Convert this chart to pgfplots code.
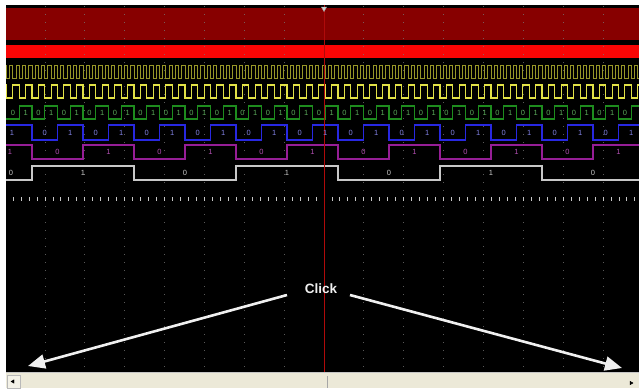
\documentclass[border=0pt]{standalone}
\usepackage{pgfplots}
\pgfplotsset{compat=1.18}
\usepackage{fontspec}
\setmainfont{Liberation Sans}
\usetikzlibrary{arrows.meta}
\definecolor{bandA}{RGB}{135,0,0}
\definecolor{bandB}{RGB}{250,5,5}
\definecolor{olivec}{RGB}{150,150,40}
\definecolor{yellowc}{RGB}{225,225,70}
\definecolor{greenc}{RGB}{30,140,30}
\definecolor{greenl}{RGB}{90,170,90}
\definecolor{bluec}{RGB}{40,40,225}
\definecolor{bluel}{RGB}{130,130,230}
\definecolor{purplec}{RGB}{150,30,150}
\definecolor{purplel}{RGB}{180,80,180}
\definecolor{whitec}{RGB}{200,200,200}
\definecolor{gridc}{RGB}{120,120,120}
\definecolor{cursorc}{RGB}{175,10,10}
\definecolor{scrollbg}{RGB}{236,233,216}
\definecolor{arroww}{RGB}{240,240,240}
\begin{document}
\begin{tikzpicture}
\begin{axis}[width=639pt,height=388pt,scale only axis,
  xmin=0,xmax=639,ymin=0,ymax=388,y dir=reverse,hide axis,clip=true,
  every node near coord/.append style={anchor=center,inner sep=0pt,font=\fontsize{7.5}{8}\selectfont}]
% backgrounds
\addplot[fill=white,draw=none] coordinates {(0,0)(639,0)(639,388)(0,388)};
\addplot[fill=black,draw=none] coordinates {(6,5)(639,5)(639,372)(6,372)};
\addplot[fill=bandA,draw=none] coordinates {(6,8)(639,8)(639,40)(6,40)};
\addplot[fill=bandB,draw=none] coordinates {(6,45)(639,45)(639,58)(6,58)};
% grid
\foreach \g in {45,84.86,124.71,164.57,204.43,244.29,284.14,363.86,403.71,443.57,483.43,523.29,563.14,603}{
  \edef\tmp{\noexpand\addplot[gridc,opacity=0.75,line width=0.9pt,dash pattern=on 1pt off 7pt] coordinates {(\g,6)(\g,372)};}
  \tmp
}
% olive fast clock
\addplot[const plot,olivec,line width=1pt] coordinates {(6,65)
(6.5,78)(9.69,65)(12.88,78)(16.06,65)(19.25,78)(22.44,65)(25.63,78)(28.81,65)
(32,78)(35.19,65)(38.38,78)(41.56,65)(44.75,78)(47.94,65)(51.13,78)(54.31,65)
(57.5,78)(60.69,65)(63.88,78)(67.06,65)(70.25,78)(73.44,65)(76.63,78)(79.81,65)
(83,78)(86.19,65)(89.38,78)(92.56,65)(95.75,78)(98.94,65)(102.13,78)(105.31,65)
(108.5,78)(111.69,65)(114.88,78)(118.06,65)(121.25,78)(124.44,65)(127.63,78)(130.81,65)
(134,78)(137.19,65)(140.38,78)(143.56,65)(146.75,78)(149.94,65)(153.13,78)(156.31,65)
(159.5,78)(162.69,65)(165.88,78)(169.06,65)(172.25,78)(175.44,65)(178.63,78)(181.81,65)
(185,78)(188.19,65)(191.38,78)(194.56,65)(197.75,78)(200.94,65)(204.13,78)(207.31,65)
(210.5,78)(213.69,65)(216.88,78)(220.06,65)(223.25,78)(226.44,65)(229.63,78)(232.81,65)
(236,78)(239.19,65)(242.38,78)(245.56,65)(248.75,78)(251.94,65)(255.13,78)(258.31,65)
(261.5,78)(264.69,65)(267.88,78)(271.06,65)(274.25,78)(277.44,65)(280.63,78)(283.81,65)
(287,78)(290.19,65)(293.38,78)(296.56,65)(299.75,78)(302.94,65)(306.13,78)(309.31,65)
(312.5,78)(315.69,65)(318.88,78)(322.06,65)(325.25,78)(328.44,65)(331.63,78)(334.81,65)
(338,78)(341.19,65)(344.38,78)(347.56,65)(350.75,78)(353.94,65)(357.13,78)(360.31,65)
(363.5,78)(366.69,65)(369.88,78)(373.06,65)(376.25,78)(379.44,65)(382.63,78)(385.81,65)
(389,78)(392.19,65)(395.38,78)(398.56,65)(401.75,78)(404.94,65)(408.13,78)(411.31,65)
(414.5,78)(417.69,65)(420.88,78)(424.06,65)(427.25,78)(430.44,65)(433.63,78)(436.81,65)
(440,78)(443.19,65)(446.38,78)(449.56,65)(452.75,78)(455.94,65)(459.13,78)(462.31,65)
(465.5,78)(468.69,65)(471.88,78)(475.06,65)(478.25,78)(481.44,65)(484.63,78)(487.81,65)
(491,78)(494.19,65)(497.38,78)(500.56,65)(503.75,78)(506.94,65)(510.13,78)(513.31,65)
(516.5,78)(519.69,65)(522.88,78)(526.06,65)(529.25,78)(532.44,65)(535.63,78)(538.81,65)
(542,78)(545.19,65)(548.38,78)(551.56,65)(554.75,78)(557.94,65)(561.13,78)(564.31,65)
(567.5,78)(570.69,65)(573.88,78)(577.06,65)(580.25,78)(583.44,65)(586.63,78)(589.81,65)
(593,78)(596.19,65)(599.38,78)(602.56,65)(605.75,78)(608.94,65)(612.13,78)(615.31,65)
(618.5,78)(621.69,65)(624.88,78)(628.06,65)(631.25,78)(634.44,65)(637.63,78)(639,78)};
% yellow clock
\addplot[const plot,yellowc,line width=1.2pt] coordinates {(6,85)
(6.5,98)(12.88,85)(19.25,98)(25.63,85)
(32,98)(38.38,85)(44.75,98)(51.13,85)
(57.5,98)(63.88,85)(70.25,98)(76.63,85)
(83,98)(89.38,85)(95.75,98)(102.13,85)
(108.5,98)(114.88,85)(121.25,98)(127.63,85)
(134,98)(140.38,85)(146.75,98)(153.13,85)
(159.5,98)(165.88,85)(172.25,98)(178.63,85)
(185,98)(191.38,85)(197.75,98)(204.13,85)
(210.5,98)(216.88,85)(223.25,98)(229.63,85)
(236,98)(242.38,85)(248.75,98)(255.13,85)
(261.5,98)(267.88,85)(274.25,98)(280.63,85)
(287,98)(293.38,85)(299.75,98)(306.13,85)
(312.5,98)(318.88,85)(325.25,98)(331.63,85)
(338,98)(344.38,85)(350.75,98)(357.13,85)
(363.5,98)(369.88,85)(376.25,98)(382.63,85)
(389,98)(395.38,85)(401.75,98)(408.13,85)
(414.5,98)(420.88,85)(427.25,98)(433.63,85)
(440,98)(446.38,85)(452.75,98)(459.13,85)
(465.5,98)(471.88,85)(478.25,98)(484.63,85)
(491,98)(497.38,85)(503.75,98)(510.13,85)
(516.5,98)(522.88,85)(529.25,98)(535.63,85)
(542,98)(548.38,85)(554.75,98)(561.13,85)
(567.5,98)(573.88,85)(580.25,98)(586.63,85)
(593,98)(599.38,85)(605.75,98)(612.13,85)
(618.5,98)(624.88,85)(631.25,98)(637.63,85)(639,85)};
% green
\addplot[const plot,greenc,line width=1.2pt] coordinates {(6,119)
(19.25,106)(32,119)(44.75,106)(57.5,119)(70.25,106)(83,119)(95.75,106)(108.5,119)
(121.25,106)(134,119)(146.75,106)(159.5,119)(172.25,106)(185,119)(197.75,106)(210.5,119)
(223.25,106)(236,119)(248.75,106)(261.5,119)(274.25,106)(287,119)(299.75,106)(312.5,119)
(325.25,106)(338,119)(350.75,106)(363.5,119)(376.25,106)(389,119)(401.75,106)(414.5,119)
(427.25,106)(440,119)(452.75,106)(465.5,119)(478.25,106)(491,119)(503.75,106)(516.5,119)
(529.25,106)(542,119)(554.75,106)(567.5,119)(580.25,106)(593,119)(605.75,106)(618.5,119)
(631.25,106)(639,106)};
\addplot[draw=none,nodes near coords,point meta=explicit symbolic,
  every node near coord/.append style={text=greenl}] coordinates {
(12.88,112.5)[0](25.63,112.5)[1](38.38,112.5)[0](51.13,112.5)[1](63.88,112.5)[0](76.63,112.5)[1]
(89.38,112.5)[0](102.13,112.5)[1](114.88,112.5)[0](127.63,112.5)[1](140.38,112.5)[0](153.13,112.5)[1]
(165.88,112.5)[0](178.63,112.5)[1](191.38,112.5)[0](204.13,112.5)[1](216.88,112.5)[0](229.63,112.5)[1]
(242.38,112.5)[0](255.13,112.5)[1](267.88,112.5)[0](280.63,112.5)[1](293.38,112.5)[0](306.13,112.5)[1]
(318.88,112.5)[0](331.63,112.5)[1](344.38,112.5)[0](357.13,112.5)[1](369.88,112.5)[0](382.63,112.5)[1]
(395.38,112.5)[0](408.13,112.5)[1](420.88,112.5)[0](433.63,112.5)[1](446.38,112.5)[0](459.13,112.5)[1]
(471.88,112.5)[0](484.63,112.5)[1](497.38,112.5)[0](510.13,112.5)[1](522.88,112.5)[0](535.63,112.5)[1]
(548.38,112.5)[0](561.13,112.5)[1](573.88,112.5)[0](586.63,112.5)[1](599.38,112.5)[0](612.13,112.5)[1]
(624.88,112.5)[0]};
% blue
\addplot[const plot,bluec,line width=1.4pt] coordinates {(6,125)
(32,140)(57.5,125)(83,140)(108.5,125)(134,140)(159.5,125)(185,140)(210.5,125)
(236,140)(261.5,125)(287,140)(312.5,125)(338,140)(363.5,125)(389,140)(414.5,125)
(440,140)(465.5,125)(491,140)(516.5,125)(542,140)(567.5,125)(593,140)(618.5,125)(639,125)};
\addplot[draw=none,nodes near coords,point meta=explicit symbolic,
  every node near coord/.append style={text=bluel}] coordinates {
(12,132.5)[1](44.75,132.5)[0](70.25,132.5)[1](95.75,132.5)[0](121.25,132.5)[1](146.75,132.5)[0]
(172.25,132.5)[1](197.75,132.5)[0](223.25,132.5)[1](248.75,132.5)[0](274.25,132.5)[1](299.75,132.5)[0]
(325.25,132.5)[1](350.75,132.5)[0](376.25,132.5)[1](401.75,132.5)[0](427.25,132.5)[1](452.75,132.5)[0]
(478.25,132.5)[1](503.75,132.5)[0](529.25,132.5)[1](554.75,132.5)[0](580.25,132.5)[1](605.75,132.5)[0]
(631.25,132.5)[1]};
% purple
\addplot[const plot,purplec,line width=1.4pt] coordinates {(6,145)
(32,159)(83,145)(134,159)(185,145)(236,159)(287,145)(338,159)(389,145)(440,159)(491,145)(542,159)(593,145)(639,145)};
\addplot[draw=none,nodes near coords,point meta=explicit symbolic,
  every node near coord/.append style={text=purplel}] coordinates {
(10,152)[1](57.5,152)[0](108.5,152)[1](159.5,152)[0](210.5,152)[1](261.5,152)[0](312.5,152)[1]
(363.5,152)[0](414.5,152)[1](465.5,152)[0](516.5,152)[1](567.5,152)[0](618.5,152)[1]};
% white
\addplot[const plot,whitec,line width=1.5pt] coordinates {(6,180)
(32,166)(134,180)(236,166)(338,180)(440,166)(542,180)(639,180)};
\addplot[draw=none,nodes near coords,point meta=explicit symbolic,
  every node near coord/.append style={text=whitec}] coordinates {
(11,173)[0](83,173)[1](185,173)[0](287,173)[1](389,173)[0](491,173)[1](593,173)[0]};
% tick row
\addplot[only marks,mark=|,mark size=2pt,mark options={line width=0.9pt,draw=whitec}] coordinates {
(13.11,199)(21.09,199)(29.06,199)(37.03,199)
(45,199)(52.97,199)(60.94,199)(68.91,199)(76.89,199)
(84.86,199)(92.83,199)(100.8,199)(108.77,199)(116.74,199)
(124.71,199)(132.69,199)(140.66,199)(148.63,199)(156.6,199)
(164.57,199)(172.54,199)(180.51,199)(188.49,199)(196.46,199)
(204.43,199)(212.4,199)(220.37,199)(228.34,199)(236.31,199)
(244.29,199)(252.26,199)(260.23,199)(268.2,199)(276.17,199)
(284.14,199)(292.11,199)(300.09,199)(308.06,199)(316.03,199)
(331.97,199)(339.94,199)(347.91,199)(355.89,199)
(363.86,199)(371.83,199)(379.8,199)(387.77,199)(395.74,199)
(403.71,199)(411.69,199)(419.66,199)(427.63,199)(435.6,199)
(443.57,199)(451.54,199)(459.51,199)(467.49,199)(475.46,199)
(483.43,199)(491.4,199)(499.37,199)(507.34,199)(515.31,199)
(523.29,199)(531.26,199)(539.23,199)(547.2,199)(555.17,199)
(563.14,199)(571.11,199)(579.09,199)(587.06,199)(595.03,199)
(603,199)(610.97,199)(618.94,199)(626.91,199)(634.89,199)};
% cursor
\addplot[cursorc,line width=1pt] coordinates {(324,5)(324,372)};
\addplot[only marks,mark=triangle*,mark size=3pt,mark options={rotate=180,fill=gray!35,draw=gray!70}] coordinates {(324,8.5)};
% arrows
\addplot[arroww,line width=2.6pt,-{Triangle[length=17pt,width=14pt]}] coordinates {(287,295)(28,366)};
\addplot[arroww,line width=2.6pt,-{Triangle[length=17pt,width=14pt]}] coordinates {(350,295)(622,368)};
\node[font=\bfseries\fontsize{13.5}{14}\selectfont,text=arroww] at (axis cs:321,289) {Click};
% scrollbar
\addplot[fill=scrollbg,draw=none] coordinates {(6,372)(639,372)(639,388)(6,388)};
\addplot[gray!45,line width=0.6pt] coordinates {(6,372.6)(639,372.6)};
\addplot[fill=scrollbg!60!white,draw=gray!55,line width=0.5pt] coordinates {(7,375)(20,375)(20,388)(7,388)(7,375)};
\addplot[only marks,mark=triangle*,mark size=2pt,mark options={rotate=90,fill=black,draw=black}] coordinates {(13,381.5)};
\addplot[only marks,mark=triangle*,mark size=2pt,mark options={rotate=-90,fill=black,draw=black}] coordinates {(631,383)};
\addplot[gray!70,line width=0.7pt] coordinates {(327,376)(327,388)};
\end{axis}
\end{tikzpicture}
\end{document}
